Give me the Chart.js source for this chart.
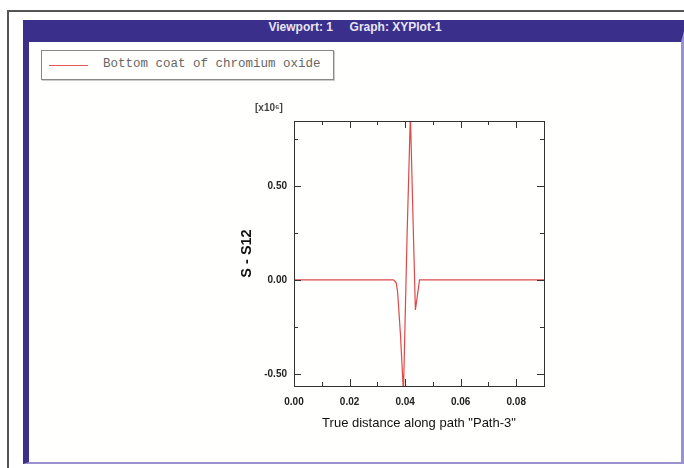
<!DOCTYPE html>
<html>
<head>
    <title>XYPlot-1</title>
    <script src="https://cdn.jsdelivr.net/npm/chart.js"></script>
    <style>
        body { margin: 0; width: 684px; height: 468px; overflow: hidden; background: #fff; position: relative; }
        #outer { position: absolute; left: 7px; top: 10px; width: 700px; height: 480px; border: 2px solid #555; }
        #frame { position: absolute; left: 23px; top: 20px; width: 652px; height: 420px;
                 border-left: 6px solid #3b2f8c; border-right: 6px solid #9a92d0;
                 border-top: 22px solid #3b2f8c; border-bottom: 2px solid #9a92d0; background: #fffffd; }
        #viewTitle { position: absolute; left: 23px; top: 20px; width: 664px; height: 22px; line-height: 22px;
                     text-align: center; color: #e8e6f4; font: bold 12px "Liberation Sans", Arial, sans-serif; }
        #legendBox { position: absolute; left: 41px; top: 50px; width: 291px; height: 28px;
                     border: 1px solid #888; box-shadow: 1px 1px 0 #ccc; }
        #legendBox .swatch { position: absolute; left: 7px; top: 14px; width: 39px; height: 1px; background: #e85858; }
        #legendBox .label { position: absolute; left: 61px; top: 6px; font: 12.5px "Liberation Mono", monospace; color: #666; }
        #wrap { position: absolute; left: 220px; top: 90px; width: 340px; height: 350px; }
    </style>
</head>
<body>
    <div id="outer"></div>
    <div id="frame"></div>
    <div id="viewTitle">Viewport: 1&nbsp;&nbsp;&nbsp;&nbsp;&nbsp;Graph: XYPlot-1</div>
    <div id="legendBox"><div class="swatch"></div><div class="label" id="legendLabel"></div></div>
    <div id="wrap"><canvas id="plot"></canvas></div>

    <script>
        // values
        var seriesName = 'Bottom coat of chromium oxide';
        var distance = [0, 0.0358, 0.0368, 0.0373, 0.0383, 0.0394, 0.0407, 0.0419, 0.0431, 0.0437, 0.0452, 0.09];
        var deltaS = [0, 0, -0.016, -0.065, -0.285, -0.60, 0.233, 0.88, 0.18, -0.16, 0, 0];
        var xRange = [0, 0.09];
        var yRange = [-0.565, 0.845];
        var xStep = 0.01, xLabelStep = 0.02;
        var yStep = 0.25, yLabelStep = 0.5;
        var yUnit = '[x10\u2076]';

        document.getElementById('legendLabel').textContent = seriesName;

        function onStep(v, step) {
            var r = v / step;
            return Math.abs(r - Math.round(r)) < 1e-6;
        }

        // inward tick marks on all four sides + box
        var boxTicks = {
            id: 'boxTicks',
            afterDraw: function (chart) {
                var ctx = chart.ctx, a = chart.chartArea;
                var xs = chart.scales.x, ys = chart.scales.y;
                ctx.save();
                ctx.strokeStyle = '#333';
                ctx.lineWidth = 1;
                ctx.strokeRect(Math.round(a.left) + 0.5, Math.round(a.top) + 0.5,
                               Math.round(a.right - a.left), Math.round(a.bottom - a.top));
                ctx.beginPath();
                xs.ticks.forEach(function (t) {
                    if (!onStep(t.value, xStep)) return;
                    var len = onStep(t.value, xLabelStep) ? 7 : 4;
                    var px = Math.round(xs.getPixelForValue(t.value)) + 0.5;
                    ctx.moveTo(px, a.bottom); ctx.lineTo(px, a.bottom - len);
                    ctx.moveTo(px, a.top); ctx.lineTo(px, a.top + len);
                });
                ys.ticks.forEach(function (t) {
                    if (!onStep(t.value, yStep)) return;
                    var len = onStep(t.value, yLabelStep) ? 7 : 4;
                    var py = Math.round(ys.getPixelForValue(t.value)) + 0.5;
                    ctx.moveTo(a.left, py); ctx.lineTo(a.left + len, py);
                    ctx.moveTo(a.right, py); ctx.lineTo(a.right - len, py);
                });
                ctx.stroke();
                ctx.fillStyle = '#444';
                ctx.font = 'bold 10px "Liberation Sans", Arial, sans-serif';
                ctx.textAlign = 'left';
                ctx.textBaseline = 'middle';
                ctx.fillText(yUnit, a.left - 39, a.top - 13);
                ctx.restore();
            }
        };

        var points = distance.map(function (d, i) { return { x: d, y: deltaS[i] }; });

        new Chart(document.getElementById('plot'), {
            type: 'line',
            data: {
                datasets: [{
                    label: seriesName,
                    data: points,
                    borderColor: '#e04848',
                    borderWidth: 1.2,
                    pointRadius: 0,
                    tension: 0,
                    fill: false
                }]
            },
            options: {
                responsive: true,
                maintainAspectRatio: false,
                animation: false,
                layout: { padding: { top: 31, right: 16, left: 0, bottom: 0 } },
                plugins: { legend: { display: false }, tooltip: { enabled: false } },
                scales: {
                    x: {
                        type: 'linear',
                        min: xRange[0], max: xRange[1],
                        grid: { display: false, drawTicks: false },
                        border: { display: false },
                        afterFit: function (s) { s.height = 54; },
                        ticks: {
                            stepSize: xStep,
                            autoSkip: false,
                            maxRotation: 0,
                            padding: 10,
                            color: '#222',
                            font: { family: '"Liberation Sans", Arial, sans-serif', size: 10, weight: 'bold' },
                            callback: function (v) { return onStep(v, xLabelStep) ? v.toFixed(2) : ''; }
                        },
                        title: {
                            display: true,
                            text: 'True distance along path "Path-3"',
                            color: '#111',
                            padding: { top: 0, bottom: 9 },
                            font: { family: '"Liberation Sans", Arial, sans-serif', size: 13 }
                        }
                    },
                    y: {
                        type: 'linear',
                        min: yRange[0], max: yRange[1],
                        grid: { display: false, drawTicks: false },
                        border: { display: false },
                        afterFit: function (s) { s.width = 74; },
                        ticks: {
                            stepSize: yStep,
                            autoSkip: false,
                            padding: 7,
                            color: '#222',
                            font: { family: '"Liberation Sans", Arial, sans-serif', size: 10, weight: 'bold' },
                            callback: function (v) {
                                if (!onStep(v, yLabelStep)) return '';
                                return Math.abs(v) < 1e-9 ? '0.00' : v.toFixed(2);
                            }
                        },
                        title: {
                            display: true,
                            text: 'S - S12',
                            color: '#111',
                            padding: { top: 18, bottom: 0 },
                            font: { family: '"Liberation Sans", Arial, sans-serif', size: 14.5, weight: 'bold' }
                        }
                    }
                }
            },
            plugins: [boxTicks]
        });
    </script>
</body>
</html>
